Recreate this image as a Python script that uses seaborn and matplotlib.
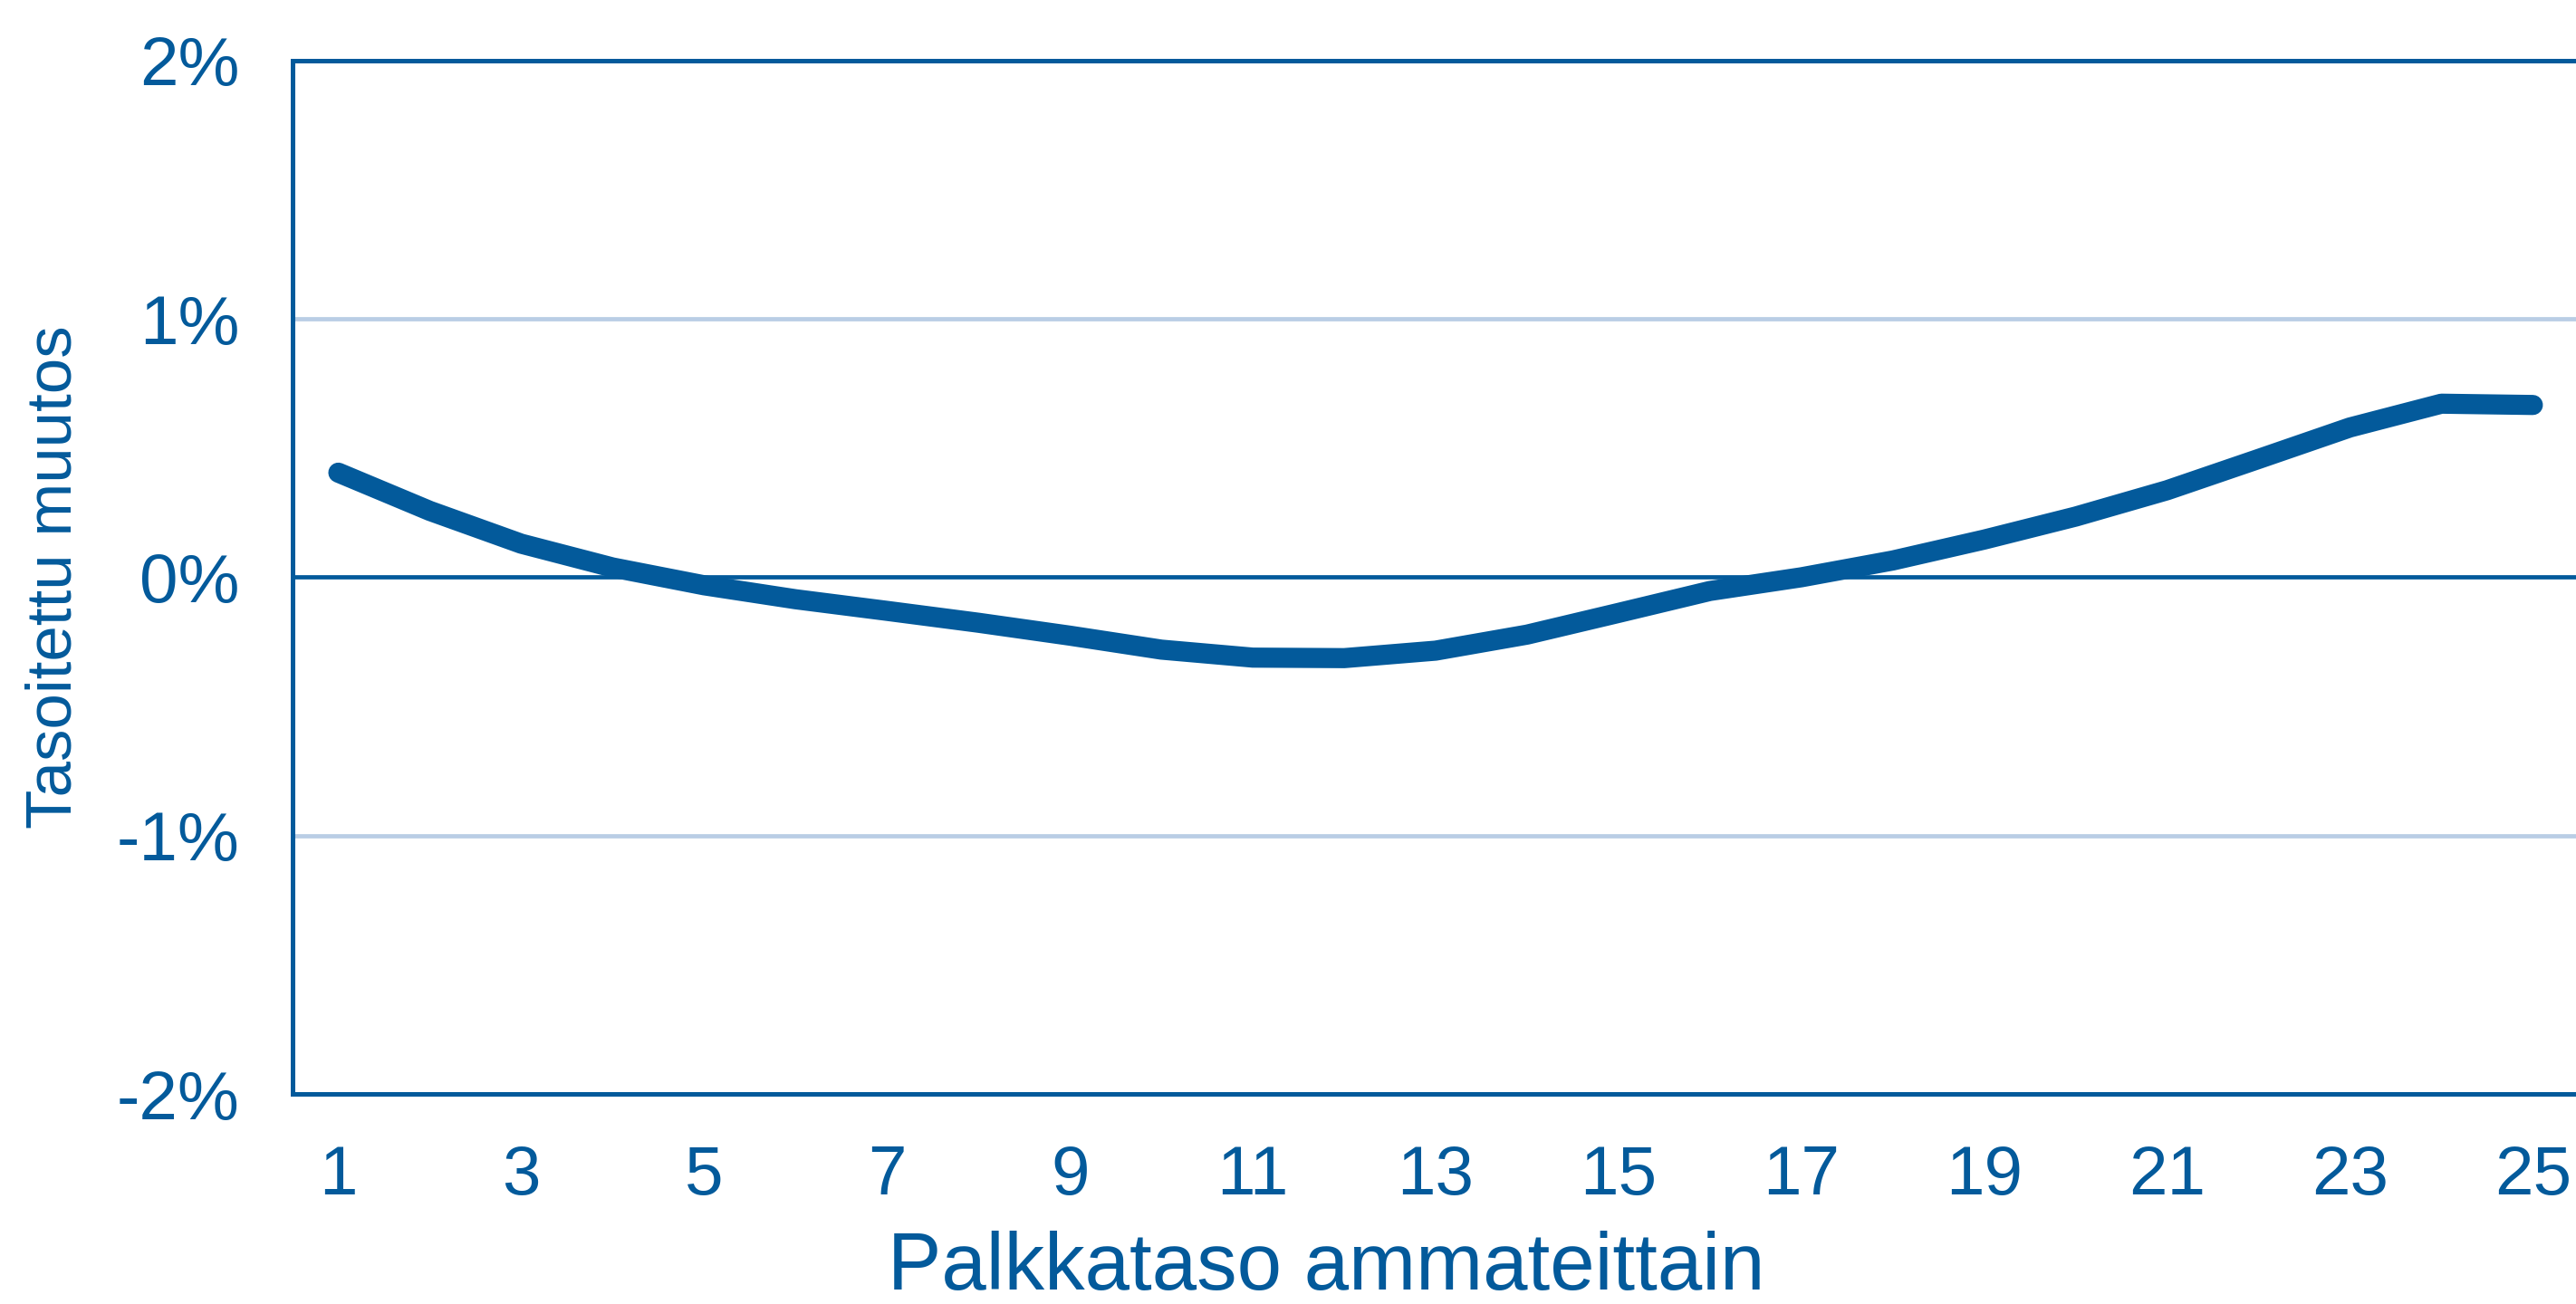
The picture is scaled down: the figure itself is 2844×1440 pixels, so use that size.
import numpy as np
import pandas as pd
import matplotlib
matplotlib.use("Agg")
import matplotlib.pyplot as plt
import seaborn as sns

# palkkataso (ammattiryhmä 1-25) ja tasoitettu muutos, %
palkkataso = list(range(1, 26))
muutos = [0.405, 0.257, 0.130, 0.038, -0.031, -0.085, -0.130, -0.176, -0.226,
          -0.280, -0.311, -0.313, -0.284, -0.222, -0.138, -0.053, 0.000, 0.065,
          0.146, 0.235, 0.337, 0.458, 0.580, 0.672, 0.667]
y_ticks = [-2, -1, 0, 1, 2]
y_ticklabels = ["-2%", "-1%", "0%", "1%", "2%"]
x_ticks = list(range(1, 26, 2))

df = pd.DataFrame({"palkkataso": palkkataso, "muutos": muutos})

blue = "#035A9B"
light = "#B9CDE5"

sns.set_style("white")
plt.rcParams["font.family"] = ["Liberation Sans", "DejaVu Sans"]

fig = plt.figure(figsize=(14.22, 7.2), dpi=200)
ax = fig.add_axes([0.1136, 0.1611, 0.8874, 0.7924])

# grid lines
for yv in [-1, 1]:
    ax.axhline(yv, color=light, lw=1.7, zorder=1)
ax.axhline(0, color=blue, lw=1.7, zorder=2)

sns.lineplot(data=df, x="palkkataso", y="muutos", color=blue, linewidth=8,
             ax=ax, zorder=3, solid_capstyle="round")

ax.set_xlim(0.5, 25.5)
ax.set_ylim(-2, 2)
ax.set_xticks(x_ticks)
ax.set_yticks(y_ticks)
ax.set_yticklabels(y_ticklabels)
ax.tick_params(axis="both", length=0, labelcolor=blue, labelsize=27.5)
ax.tick_params(axis="y", pad=21)
ax.tick_params(axis="x", pad=20)

for side in ["left", "top", "bottom"]:
    ax.spines[side].set_color(blue)
    ax.spines[side].set_linewidth(1.8)
ax.spines["right"].set_visible(False)

ax.set_xlabel("Palkkataso ammateittain", fontsize=32, color=blue, va="center")
ax.xaxis.set_label_coords(0.452, -0.169)
ax.set_ylabel("Tasoitettu muutos", fontsize=25.5, color=blue, va="center")
ax.yaxis.set_label_coords(-0.104, 0.5)

fig.savefig("out.png", dpi=200)
